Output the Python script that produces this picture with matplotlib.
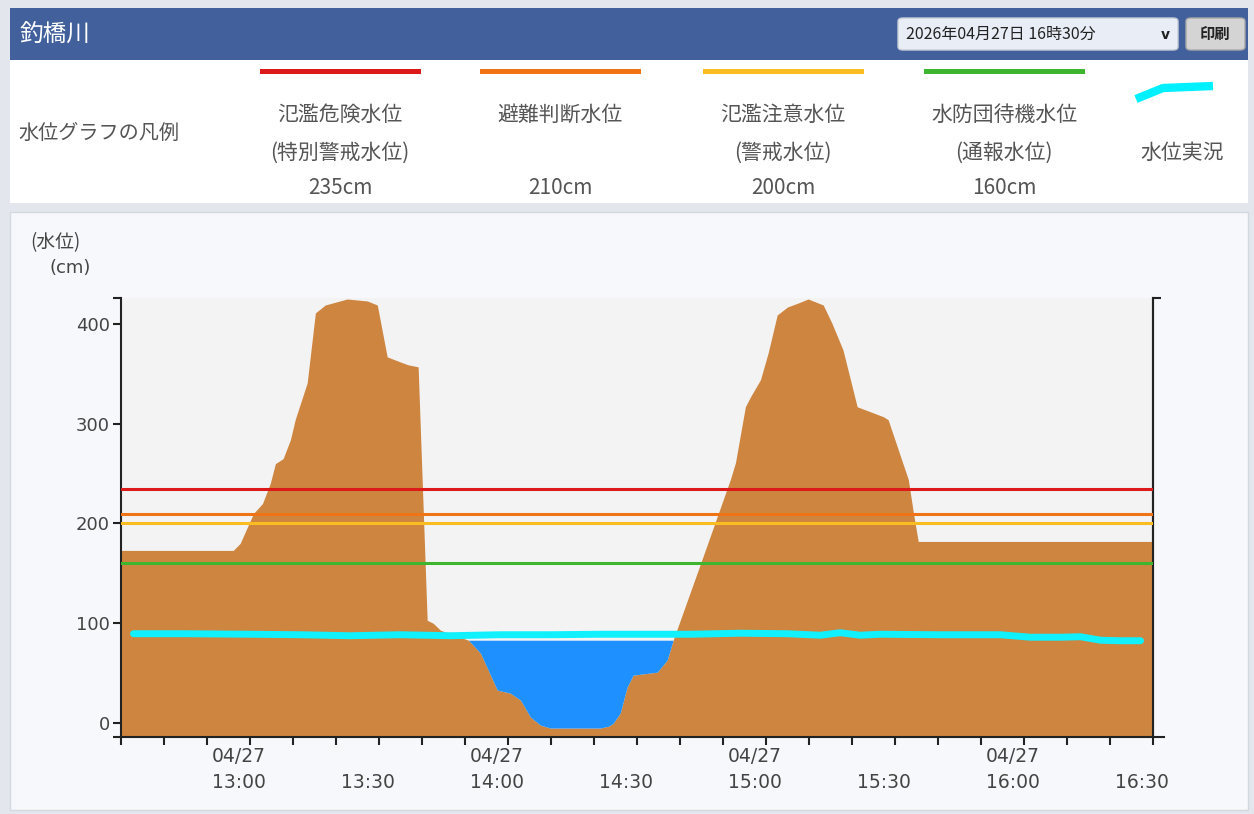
import numpy as np
import matplotlib
matplotlib.use("Agg")
import matplotlib.pyplot as plt
from matplotlib.patches import Rectangle, FancyBboxPatch
from matplotlib.lines import Line2D
import matplotlib.transforms as mtransforms

plt.rcParams['font.family'] = ['DejaVu Sans', 'Noto Sans CJK JP']
JP = ['Noto Sans CJK JP', 'DejaVu Sans']

# --- data (x = minutes after 12:30) ---
terrain_t = [0.0, 26.1, 27.7, 30.8, 32.9, 34.7, 35.9, 37.7, 39.4, 40.5, 43.3, 45.2,
             47.5, 52.6, 57.3, 59.6, 61.9, 64.9, 66.8, 69.1, 71.2, 72.6, 74.3, 80.8,
             83.6, 87.5, 90.5, 92.9, 95.2, 97.5, 99.8, 111.5, 113.5, 114.5, 116.1, 117.7,
             119.1, 124.7, 127.0, 128.4, 135.2, 141.7, 142.9, 145.2, 146.4, 148.7,
             150.5, 152.6, 155.0, 157.5, 159.8, 163.3, 165.3, 167.9, 171.2, 177.3,
             178.4, 183.1, 184.3, 185.4, 240.0]
terrain_cm = [173, 173, 180, 210, 220, 240, 260, 265, 284, 304, 341, 411,
              419, 425, 423, 419, 367, 362, 359, 357, 103, 100, 93, 83,
              70, 33, 30, 23, 6, -2, -5, -5, -3, 0, 10, 36,
              48, 51, 63, 83, 165, 244, 261, 317, 327, 344,
              371, 409, 417, 421, 425, 419, 401, 374, 317, 307,
              304, 244, 210, 182, 182]

level_t = [2.9, 15, 30, 41.7, 53.3, 65, 76.6, 88.2, 99.8, 111.5, 120.8, 132.4,
           144.0, 155, 162.6, 167.3, 171.9, 176.6, 190, 204.5, 211.5, 218.5,
           223.1, 227.8, 232, 237.1]
level_cm = [89.5, 89.5, 89, 88.5, 87.5, 88.5, 87.5, 88.5, 88.5, 89, 89, 89,
            90, 89.5, 88, 90.5, 88, 89, 88.5, 88.5, 86, 86,
            86.5, 83, 82.5, 82.5]
water_top = 83

thr_names = ['氾濫危険水位', '避難判断水位', '氾濫注意水位', '水防団待機水位']
thr_sub = ['(特別警戒水位)', '', '(警戒水位)', '(通報水位)']
thr_values = [235, 210, 200, 160]
thr_colors = ['#dc1a1a', '#f07316', '#f9bd22', '#3db52e']

tick_minutes = list(range(0, 241, 10))
label_minutes = [30, 60, 90, 120, 150, 180, 210, 240]
label_text = ['04/27\n13:00', ' \n13:30', '04/27\n14:00', ' \n14:30',
              '04/27\n15:00', ' \n15:30', '04/27\n16:00', ' \n16:30']

W, H = 1254, 814
fig = plt.figure(figsize=(W / 100, H / 100), dpi=100, facecolor='#e3e7ed')


def fx(px):
    return px / W


def fy(py):
    return 1 - py / H


# panels
def panel(x, y, w, h, **kw):
    fig.patches.append(Rectangle((fx(x), fy(y + h)), w / W, h / H, transform=fig.transFigure,
                                 zorder=-5, **kw))


panel(10, 8, 1238, 52, facecolor='#41609c', edgecolor='none')
panel(10, 60, 1238, 143, facecolor='white', edgecolor='none')
panel(10, 212, 1238, 598, facecolor='#f6f8fb', edgecolor='#d3d9e1', lw=1)

fig.text(fx(20), fy(35), '釣橋川', color='white', fontsize=17, family=JP, va='center')
fig.patches.append(FancyBboxPatch((fx(898), fy(50)), fx(280), 32 / H, transform=fig.transFigure,
                                  boxstyle='round,pad=0,rounding_size=0.004', zorder=-4,
                                  facecolor='#e9edf5', edgecolor='#c6ccd6'))
fig.text(fx(906), fy(34), '2026年04月27日 16時30分', fontsize=11.5, family=JP,
         va='center', color='#222')
fig.text(fx(1165), fy(35), 'v', fontsize=10, fontweight='bold', va='center', ha='center',
         color='#222')
fig.patches.append(FancyBboxPatch((fx(1186), fy(50)), fx(59), 32 / H, transform=fig.transFigure,
                                  boxstyle='round,pad=0,rounding_size=0.004', zorder=-4,
                                  facecolor='#d4d4d4', edgecolor='#a8a8a8'))
fig.text(fx(1215), fy(34), '印刷', fontsize=11, fontweight='bold', family=JP,
         va='center', ha='center', color='#222')

# legend
fig.text(fx(18), fy(133), '水位グラフの凡例', fontsize=14.5, family=JP, va='center', color='#555')
centers = [340, 560, 783, 1004]
for cx, name, sub, val, col in zip(centers, thr_names, thr_sub, thr_values, thr_colors):
    fig.lines.append(Line2D([fx(cx - 78), fx(cx + 78)], [fy(71), fy(71)],
                            transform=fig.transFigure, color=col, lw=3.6))
    fig.text(fx(cx), fy(115), name, fontsize=15, family=JP, ha='center', va='center', color='#555')
    if sub:
        fig.text(fx(cx), fy(153), sub, fontsize=15, family=JP, ha='center', va='center', color='#555')
    fig.text(fx(cx), fy(188), f'{val}cm', fontsize=15, family=JP, ha='center', va='center',
             color='#555')
fig.lines.append(Line2D([fx(1136), fx(1163), fx(1213)], [fy(99), fy(88), fy(86)],
                        transform=fig.transFigure, color='#00f0ff', lw=6,
                        solid_capstyle='butt'))
fig.text(fx(1182), fy(153), '水位実況', fontsize=15, family=JP, ha='center', va='center',
         color='#555')

fig.text(fx(55), fy(243), '(水位)', fontsize=13.5, family=JP, ha='center', va='center', color='#444')
fig.text(fx(70), fy(268), '(cm)', fontsize=13, ha='center', va='center', color='#444')

# chart
ax = fig.add_axes([fx(121), 1 - 737 / H, fx(1153 - 121), (737 - 298) / H])
ax.set_zorder(5)
ax.set_facecolor('#f3f3f3')
t = np.array(terrain_t)
g = np.array(terrain_cm)
ymin, ymax = -14, 426
ax.fill_between(t, ymin, g, color='#cd853f', lw=0, zorder=1)
ax.fill_between(t, g, water_top, where=g < water_top, interpolate=True,
                color='#1e90ff', lw=0, zorder=2)
for v, col in zip(thr_values, thr_colors):
    ax.axhline(v, color=col, lw=2.2, zorder=3)
ax.plot(level_t, level_cm, color='#10f0ff', lw=5, solid_capstyle='round', zorder=4)

ax.set_xlim(0, 240)
ax.set_ylim(ymin, ymax)
for s in ['left', 'right', 'bottom']:
    ax.spines[s].set_color('#222')
    ax.spines[s].set_linewidth(1.5)
ax.spines['top'].set_visible(False)
ax.spines['bottom'].set_bounds(0, 242.5)

ax.set_yticks([ymin, 0, 100, 200, 300, 400, ymax])
ax.set_yticklabels(['', '0', '100', '200', '300', '400', ''])
ax.tick_params(axis='y', length=6, width=1.5, color='#222', labelsize=13, labelcolor='#444', pad=2)
ax.set_xticks(tick_minutes, minor=True)
ax.set_xticks(label_minutes)
ax.set_xticklabels(label_text, linespacing=1.5)
ax.tick_params(axis='x', which='both', length=6, width=1.5, color='#222', labelsize=13.5,
               labelcolor='#444', pad=1)
off = mtransforms.ScaledTranslation(-11 / 100, 0, fig.dpi_scale_trans)
for lab in ax.get_xticklabels():
    lab.set_transform(lab.get_transform() + off)
    lab.set_verticalalignment('top')

sec = ax.secondary_yaxis('right')
sec.set_yticks([ymax])
sec.set_yticklabels([''])
sec.tick_params(length=6, width=1.5, color='#222')
sec.spines['right'].set_color('#222')
sec.spines['right'].set_linewidth(1.5)

fig.savefig('out.png', dpi=100, facecolor=fig.get_facecolor())
